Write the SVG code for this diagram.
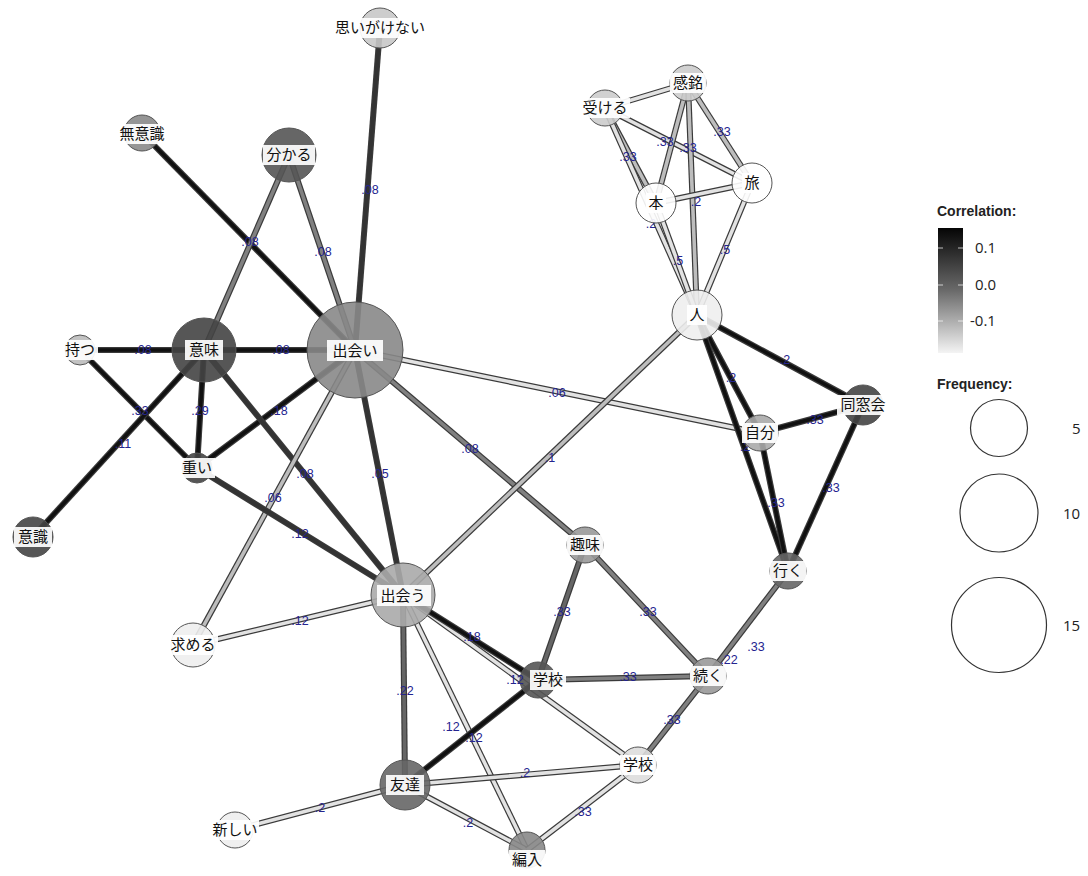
<svg xmlns="http://www.w3.org/2000/svg" width="1088" height="876" viewBox="0 0 1088 876">
  <style>
    .bg { fill: #ffffff; }
    .eo { stroke: #3a3a3a; stroke-width: 6; stroke-linecap: butt; fill: none; }
    .ei { stroke-width: 3.6; stroke-linecap: butt; fill: none; }
    .k { stroke: #111111; }
    .d { stroke: #333333; }
    .g { stroke: #666666; }
    .m { stroke: #808080; }
    .l { stroke: #bdbdbd; }
    .w { stroke: #e2e2e2; }
    .el { font-family: "Liberation Sans", Arial, sans-serif; font-size: 12.5px; fill: #24248f; text-anchor: middle; }
    .node circle { stroke: #555555; stroke-width: 1; fill-opacity: 0.9; }
    .node rect { fill: #ffffff; fill-opacity: 0.92; }
    .node text { font-family: "Noto Sans CJK JP", "Noto Sans", sans-serif; font-size: 15px; fill: #111111; text-anchor: middle; }
    .lg-title { font-family: "Liberation Sans", Arial, sans-serif; font-size: 14px; font-weight: bold; fill: #222222; }
    .lg-num { font-family: "Open Sans", "Liberation Sans", sans-serif; font-size: 15px; fill: #222222; }
    .lg-circ { fill: none; stroke: #333333; stroke-width: 1.2; }
  </style>
  <defs>
    <linearGradient id="corr" x1="0" y1="0" x2="0" y2="1">
      <stop offset="0" stop-color="#050505"/>
      <stop offset="0.5" stop-color="#6a6a6a"/>
      <stop offset="1" stop-color="#f4f4f4"/>
    </linearGradient>
  </defs>
  <rect class="bg" x="0" y="0" width="1088" height="876"/>

  <!-- connectors: dark outline line + coloured core line -->
  <g id="edges">
    <g id="edge-lines">
      <!-- 出会い hub -->
      <line class="eo" x1="380" y1="28" x2="355" y2="350"/><line class="ei d" x1="380" y1="28" x2="355" y2="350"/>
      <line class="eo" x1="142" y1="133" x2="355" y2="350"/><line class="ei k" x1="142" y1="133" x2="355" y2="350"/>
      <line class="eo" x1="289" y1="155" x2="204" y2="350"/><line class="ei m" x1="289" y1="155" x2="204" y2="350"/>
      <line class="eo" x1="289" y1="155" x2="355" y2="350"/><line class="ei m" x1="289" y1="155" x2="355" y2="350"/>
      <line class="eo" x1="80" y1="350" x2="204" y2="350"/><line class="ei k" x1="80" y1="350" x2="204" y2="350"/>
      <line class="eo" x1="204" y1="350" x2="355" y2="350"/><line class="ei k" x1="204" y1="350" x2="355" y2="350"/>
      <line class="eo" x1="80" y1="350" x2="197" y2="468"/><line class="ei k" x1="80" y1="350" x2="197" y2="468"/>
      <line class="eo" x1="204" y1="350" x2="33" y2="537"/><line class="ei k" x1="204" y1="350" x2="33" y2="537"/>
      <line class="eo" x1="204" y1="350" x2="197" y2="468"/><line class="ei k" x1="204" y1="350" x2="197" y2="468"/>
      <line class="eo" x1="197" y1="468" x2="355" y2="350"/><line class="ei k" x1="197" y1="468" x2="355" y2="350"/>
      <line class="eo" x1="204" y1="350" x2="403" y2="595"/><line class="ei d" x1="204" y1="350" x2="403" y2="595"/>
      <line class="eo" x1="355" y1="350" x2="403" y2="595"/><line class="ei d" x1="355" y1="350" x2="403" y2="595"/>
      <line class="eo" x1="355" y1="350" x2="193" y2="645"/><line class="ei l" x1="355" y1="350" x2="193" y2="645"/>
      <line class="eo" x1="197" y1="468" x2="403" y2="595"/><line class="ei d" x1="197" y1="468" x2="403" y2="595"/>
      <line class="eo" x1="193" y1="645" x2="403" y2="595"/><line class="ei w" x1="193" y1="645" x2="403" y2="595"/>
      <line class="eo" x1="355" y1="350" x2="585" y2="545"/><line class="ei m" x1="355" y1="350" x2="585" y2="545"/>
      <line class="eo" x1="355" y1="350" x2="760" y2="433"/><line class="ei w" x1="355" y1="350" x2="760" y2="433"/>
      <!-- 出会う hub -->
      <line class="eo" x1="403" y1="595" x2="697" y2="315"/><line class="ei l" x1="403" y1="595" x2="697" y2="315"/>
      <line class="eo" x1="403" y1="595" x2="638" y2="765"/><line class="ei w" x1="403" y1="595" x2="638" y2="765"/>
      <line class="eo" x1="403" y1="595" x2="538" y2="680"/><line class="ei k" x1="403" y1="595" x2="538" y2="680"/>
      <line class="eo" x1="403" y1="595" x2="405" y2="785"/><line class="ei g" x1="403" y1="595" x2="405" y2="785"/>
      <line class="eo" x1="403" y1="595" x2="527" y2="850"/><line class="ei w" x1="403" y1="595" x2="527" y2="850"/>
      <!-- 友達 / 学校 / 編入 -->
      <line class="eo" x1="405" y1="785" x2="538" y2="680"/><line class="ei k" x1="405" y1="785" x2="538" y2="680"/>
      <line class="eo" x1="405" y1="785" x2="638" y2="765"/><line class="ei w" x1="405" y1="785" x2="638" y2="765"/>
      <line class="eo" x1="405" y1="785" x2="235" y2="830"/><line class="ei w" x1="405" y1="785" x2="235" y2="830"/>
      <line class="eo" x1="405" y1="785" x2="527" y2="850"/><line class="ei w" x1="405" y1="785" x2="527" y2="850"/>
      <line class="eo" x1="527" y1="850" x2="638" y2="765"/><line class="ei w" x1="527" y1="850" x2="638" y2="765"/>
      <line class="eo" x1="585" y1="545" x2="538" y2="680"/><line class="ei g" x1="585" y1="545" x2="538" y2="680"/>
      <line class="eo" x1="585" y1="545" x2="708" y2="676"/><line class="ei m" x1="585" y1="545" x2="708" y2="676"/>
      <line class="eo" x1="538" y1="680" x2="708" y2="676"/><line class="ei m" x1="538" y1="680" x2="708" y2="676"/>
      <line class="eo" x1="708" y1="676" x2="638" y2="765"/><line class="ei m" x1="708" y1="676" x2="638" y2="765"/>
      <line class="eo" x1="708" y1="676" x2="788" y2="571"/><line class="ei m" x1="708" y1="676" x2="788" y2="571"/>
      <!-- 人 / 自分 / 同窓会 / 行く -->
      <line class="eo" x1="697" y1="315" x2="863" y2="405"/><line class="ei k" x1="697" y1="315" x2="863" y2="405"/>
      <line class="eo" x1="697" y1="315" x2="760" y2="433"/><line class="ei k" x1="697" y1="315" x2="760" y2="433"/>
      <line class="eo" x1="697" y1="315" x2="788" y2="571"/><line class="ei k" x1="697" y1="315" x2="788" y2="571"/>
      <line class="eo" x1="760" y1="433" x2="863" y2="405"/><line class="ei k" x1="760" y1="433" x2="863" y2="405"/>
      <line class="eo" x1="760" y1="433" x2="788" y2="571"/><line class="ei k" x1="760" y1="433" x2="788" y2="571"/>
      <line class="eo" x1="863" y1="405" x2="788" y2="571"/><line class="ei k" x1="863" y1="405" x2="788" y2="571"/>
      <!-- 感銘 / 受ける / 本 / 旅 -->
      <line class="eo" x1="605" y1="108" x2="688" y2="83"/><line class="ei w" x1="605" y1="108" x2="688" y2="83"/>
      <line class="eo" x1="605" y1="108" x2="656" y2="203"/><line class="ei l" x1="605" y1="108" x2="656" y2="203"/>
      <line class="eo" x1="605" y1="108" x2="752" y2="183"/><line class="ei w" x1="605" y1="108" x2="752" y2="183"/>
      <line class="eo" x1="605" y1="108" x2="697" y2="315"/><line class="ei w" x1="605" y1="108" x2="697" y2="315"/>
      <line class="eo" x1="688" y1="83" x2="656" y2="203"/><line class="ei l" x1="688" y1="83" x2="656" y2="203"/>
      <line class="eo" x1="688" y1="83" x2="697" y2="315"/><line class="ei l" x1="688" y1="83" x2="697" y2="315"/>
      <line class="eo" x1="688" y1="83" x2="752" y2="183"/><line class="ei l" x1="688" y1="83" x2="752" y2="183"/>
      <line class="eo" x1="656" y1="203" x2="752" y2="183"/><line class="ei w" x1="656" y1="203" x2="752" y2="183"/>
      <line class="eo" x1="656" y1="203" x2="697" y2="315"/><line class="ei w" x1="656" y1="203" x2="697" y2="315"/>
      <line class="eo" x1="752" y1="183" x2="697" y2="315"/><line class="ei w" x1="752" y1="183" x2="697" y2="315"/>
    </g>
    <g id="edge-labels">
      <text class="el" x="370" y="194">.08</text>
      <text class="el" x="250" y="246">.08</text>
      <text class="el" x="323" y="256">.08</text>
      <text class="el" x="143" y="354">.08</text>
      <text class="el" x="281" y="354">.08</text>
      <text class="el" x="140" y="415">.33</text>
      <text class="el" x="200" y="415">.29</text>
      <text class="el" x="279" y="415">.18</text>
      <text class="el" x="123" y="448">.11</text>
      <text class="el" x="305" y="478">.08</text>
      <text class="el" x="380" y="478">.05</text>
      <text class="el" x="273" y="502">.06</text>
      <text class="el" x="300" y="538">.12</text>
      <text class="el" x="300" y="625">.12</text>
      <text class="el" x="470" y="453">.08</text>
      <text class="el" x="557" y="397">.06</text>
      <text class="el" x="550" y="462">.1</text>
      <text class="el" x="472" y="641">.18</text>
      <text class="el" x="405" y="695">.22</text>
      <text class="el" x="451" y="731">.12</text>
      <text class="el" x="474" y="742">.12</text>
      <text class="el" x="525" y="777">.2</text>
      <text class="el" x="320" y="812">.2</text>
      <text class="el" x="468" y="827">.2</text>
      <text class="el" x="583" y="816">.33</text>
      <text class="el" x="562" y="616">.33</text>
      <text class="el" x="648" y="616">.33</text>
      <text class="el" x="628" y="681">.33</text>
      <text class="el" x="672" y="724">.33</text>
      <text class="el" x="756" y="651">.33</text>
      <text class="el" x="785" y="364">.2</text>
      <text class="el" x="731" y="382">.2</text>
      <text class="el" x="745" y="451">.2</text>
      <text class="el" x="815" y="424">.33</text>
      <text class="el" x="776" y="507">.33</text>
      <text class="el" x="831" y="492">.33</text>
      <text class="el" x="628" y="161">.33</text>
      <text class="el" x="665" y="146">.33</text>
      <text class="el" x="688" y="152">.33</text>
      <text class="el" x="722" y="136">.33</text>
      <text class="el" x="696" y="206">.2</text>
      <text class="el" x="651" y="228">.2</text>
      <text class="el" x="678" y="265">.5</text>
      <text class="el" x="725" y="254">.5</text>
    </g>
  </g>

  <!-- nodes -->
  <g id="node-omoigakenai" class="node"><circle cx="380" cy="28" r="20" fill="#c8c8c8"/><rect x="334" y="18" width="92" height="20"/><text x="380" y="33">思いがけない</text></g>
  <g id="node-muishiki" class="node"><circle cx="142" cy="133" r="18" fill="#8a8a8a"/><rect x="116" y="124" width="52" height="20"/><text x="142" y="139">無意識</text></g>
  <g id="node-wakaru" class="node"><circle cx="289" cy="155" r="27" fill="#555555"/><rect x="263" y="145" width="52" height="20"/><text x="289" y="160">分かる</text></g>
  <g id="node-imi" class="node"><circle cx="204" cy="350" r="32" fill="#444444"/><rect x="185" y="340" width="38" height="20"/><text x="204" y="355">意味</text></g>
  <g id="node-motsu" class="node"><circle cx="80" cy="350" r="15" fill="#bbbbbb"/><rect x="62" y="340" width="36" height="20"/><text x="80" y="355">持つ</text></g>
  <g id="node-deai" class="node"><circle cx="355" cy="350" r="48" fill="#888888"/><rect x="327" y="340" width="56" height="21"/><text x="355" y="356">出会い</text></g>
  <g id="node-omoi" class="node"><circle cx="197" cy="468" r="15" fill="#444444"/><rect x="179" y="458" width="36" height="20"/><text x="197" y="473">重い</text></g>
  <g id="node-ishiki" class="node"><circle cx="33" cy="537" r="20" fill="#444444"/><rect x="14" y="527" width="38" height="20"/><text x="33" y="542">意識</text></g>
  <g id="node-motomeru" class="node"><circle cx="193" cy="645" r="22" fill="#eeeeee"/><rect x="168" y="635" width="50" height="20"/><text x="193" y="650">求める</text></g>
  <g id="node-deau" class="node"><circle cx="403" cy="595" r="32" fill="#aaaaaa"/><rect x="377" y="585" width="54" height="21"/><text x="403" y="601">出会う</text></g>
  <g id="node-shumi" class="node"><circle cx="585" cy="545" r="18" fill="#999999"/><rect x="567" y="535" width="36" height="20"/><text x="585" y="550">趣味</text></g>
  <g id="node-gakko1" class="node"><circle cx="538" cy="680" r="18" fill="#555555"/><rect x="530" y="670" width="36" height="20"/><text x="548" y="685">学校</text></g>
  <g id="node-tsuzuku" class="node"><circle cx="708" cy="676" r="18" fill="#999999"/><rect x="690" y="666" width="36" height="20"/><text x="708" y="681">続く</text></g>
  <g id="node-gakko2" class="node"><circle cx="638" cy="765" r="18" fill="#dddddd"/><rect x="620" y="755" width="36" height="20"/><text x="638" y="770">学校</text></g>
  <g id="node-tomodachi" class="node"><circle cx="405" cy="785" r="25" fill="#666666"/><rect x="386" y="775" width="38" height="20"/><text x="405" y="790">友達</text></g>
  <g id="node-atarashii" class="node"><circle cx="235" cy="830" r="18" fill="#eeeeee"/><rect x="211" y="820" width="48" height="20"/><text x="235" y="835">新しい</text></g>
  <g id="node-hennyu" class="node"><circle cx="527" cy="850" r="18" fill="#888888"/><rect x="509" y="850" width="36" height="20"/><text x="527" y="865">編入</text></g>
  <g id="node-hito" class="node"><circle cx="697" cy="315" r="25" fill="#eeeeee"/><rect x="687" y="305" width="20" height="20"/><text x="697" y="320">人</text></g>
  <g id="node-kanmei" class="node"><circle cx="688" cy="83" r="18" fill="#cccccc"/><rect x="670" y="73" width="36" height="20"/><text x="688" y="88">感銘</text></g>
  <g id="node-ukeru" class="node"><circle cx="605" cy="108" r="18" fill="#cccccc"/><rect x="580" y="98" width="50" height="20"/><text x="605" y="113">受ける</text></g>
  <g id="node-hon" class="node"><circle cx="656" cy="203" r="20" fill="#ffffff"/><rect x="646" y="193" width="20" height="20"/><text x="656" y="208">本</text></g>
  <g id="node-tabi" class="node"><circle cx="752" cy="183" r="20" fill="#ffffff"/><rect x="742" y="173" width="20" height="20"/><text x="752" y="188">旅</text></g>
  <g id="node-dosokai" class="node"><circle cx="863" cy="405" r="20" fill="#444444"/><rect x="837" y="395" width="52" height="20"/><text x="863" y="410">同窓会</text></g>
  <g id="node-jibun" class="node"><circle cx="760" cy="433" r="18" fill="#aaaaaa"/><rect x="742" y="423" width="36" height="20"/><text x="760" y="438">自分</text></g>
  <g id="node-iku" class="node"><circle cx="788" cy="571" r="18" fill="#666666"/><rect x="770" y="561" width="36" height="20"/><text x="788" y="576">行く</text></g>

  <!-- labels of edges that end beside a node label -->
  <g id="edge-labels-top">
    <text class="el" x="515" y="684">.12</text>
    <text class="el" x="729" y="664">.22</text>
  </g>

  <!-- legend -->
  <g id="legend">
    <text class="lg-title" x="937" y="216">Correlation:</text>
    <rect x="938" y="228" width="25" height="125" fill="url(#corr)"/>
    <g stroke="#ffffff" stroke-width="1" opacity="0.7">
      <line x1="938" y1="248" x2="943" y2="248"/><line x1="958" y1="248" x2="963" y2="248"/>
      <line x1="938" y1="285" x2="943" y2="285"/><line x1="958" y1="285" x2="963" y2="285"/>
      <line x1="938" y1="321" x2="943" y2="321"/><line x1="958" y1="321" x2="963" y2="321"/>
    </g>
    <text class="lg-num" x="975" y="253">0.1</text>
    <text class="lg-num" x="975" y="290">0.0</text>
    <text class="lg-num" x="970" y="326">-0.1</text>
    <text class="lg-title" x="937" y="389">Frequency:</text>
    <circle class="lg-circ" cx="999" cy="428" r="28.5"/>
    <circle class="lg-circ" cx="999" cy="513" r="39"/>
    <circle class="lg-circ" cx="999" cy="625" r="47.5"/>
    <text class="lg-num" x="1072" y="434">5</text>
    <text class="lg-num" x="1063" y="519">10</text>
    <text class="lg-num" x="1063" y="631">15</text>
  </g>
</svg>
